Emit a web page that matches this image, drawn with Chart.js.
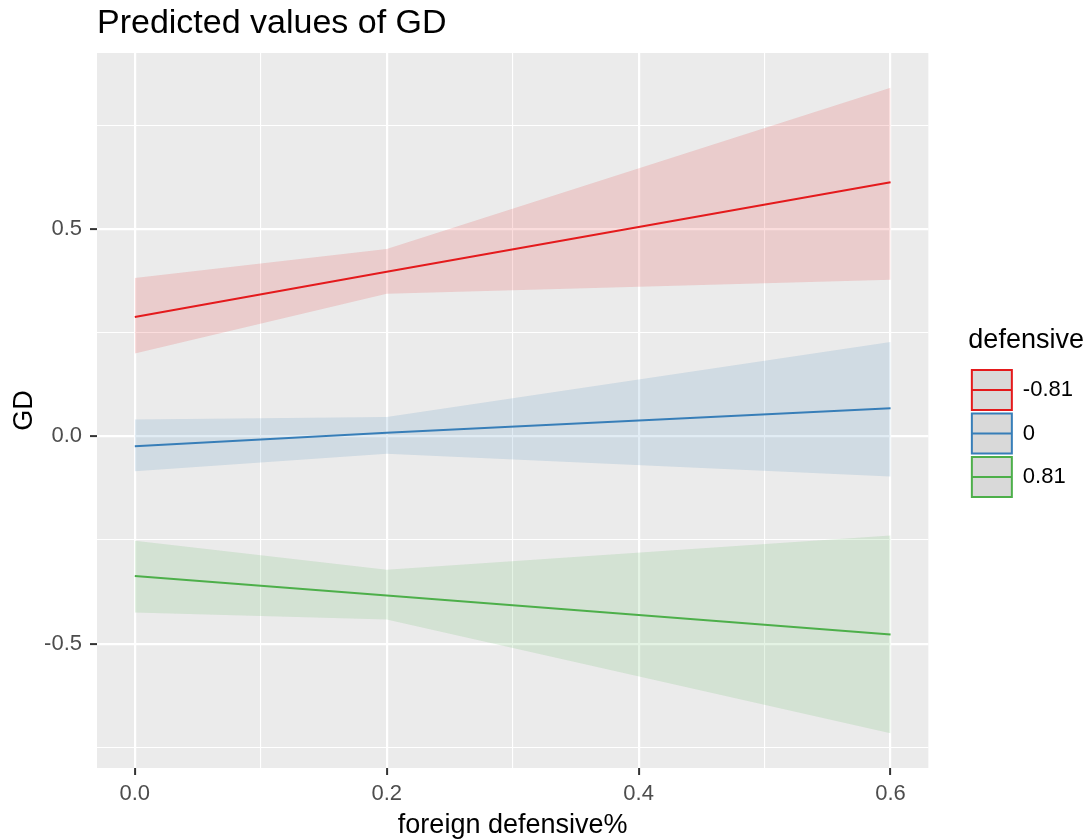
<!DOCTYPE html>
<html>
<head>
<meta charset="utf-8">
<title>Predicted values of GD</title>
<script src="https://cdn.jsdelivr.net/npm/chart.js@4.4.1/dist/chart.umd.min.js"></script>
<style>
  html, body { margin: 0; padding: 0; background: #ffffff; }
</style>
</head>
<body>
<canvas id="gdChart" width="1089" height="840"></canvas>
<script>
// values
const xValues = [0, 0.2, 0.6]
const groups = ["-0.81", "0", "0.81"]

const redLine = [0.288, 0.397, 0.613]
const redUpper = [0.382, 0.452, 0.841]
const redLower = [0.200, 0.344, 0.378]

const blueLine = [-0.024, 0.009, 0.068]
const blueUpper = [0.041, 0.047, 0.228]
const blueLower = [-0.084, -0.042, -0.097]

const greenLine = [-0.337, -0.384, -0.478]
const greenUpper = [-0.252, -0.322, -0.239]
const greenLower = [-0.425, -0.442, -0.716]

const xTicks = [0, 0.2, 0.4, 0.6]
const xTickLabels = ["0.0", "0.2", "0.4", "0.6"]
const yTicks = [-0.5, 0, 0.5]
const yTickLabels = ["-0.5", "0.0", "0.5"]

const lineColors = ['#E41A1C', '#377EB8', '#4DAF4A']
const ribbonColors = ['rgba(228, 26, 28, 0.15)', 'rgba(55, 126, 184, 0.15)', 'rgba(77, 175, 74, 0.15)']

const family = "'Liberation Sans', Arial, sans-serif"
Chart.defaults.font.family = family

const toPoints = values => values.map((y, i) => ({ x: xValues[i], y }))

const findTick = (list, value) => list.findIndex(t => Math.abs(t - value) < 1e-9)

const lines = [redLine, blueLine, greenLine]
const uppers = [redUpper, blueUpper, greenUpper]
const lowers = [redLower, blueLower, greenLower]

const datasets = []

// the three prediction lines first so they sit on top of the ribbons
lines.forEach((line, i) => {
  datasets.push({
    label: groups[i],
    data: toPoints(line),
    borderColor: lineColors[i],
    backgroundColor: '#D9D9D9',
    borderWidth: 2,
    pointRadius: 0,
    tension: 0,
    fill: false
  })
})

// confidence ribbons, upper edge fills down to the lower edge
uppers.forEach((upper, i) => {
  datasets.push({
    label: groups[i] + " upper",
    data: toPoints(upper),
    borderWidth: 0,
    borderColor: 'rgba(0,0,0,0)',
    backgroundColor: ribbonColors[i],
    pointRadius: 0,
    tension: 0,
    fill: '+1'
  })
  datasets.push({
    label: groups[i] + " lower",
    data: toPoints(lowers[i]),
    borderWidth: 0,
    borderColor: 'rgba(0,0,0,0)',
    pointRadius: 0,
    tension: 0,
    fill: false
  })
})

const panelBackground = {
  id: 'panelBackground',
  beforeDraw(chart) {
    const { ctx, chartArea: { left, top, width, height } } = chart
    ctx.save()
    ctx.fillStyle = '#EBEBEB'
    ctx.fillRect(left, top, width, height)
    ctx.restore()
  }
}

// ggplot style keys: a line through the middle of each legend box
const legendKeyLines = {
  id: 'legendKeyLines',
  afterDraw(chart) {
    const legend = chart.legend
    if (!legend || !legend.legendHitBoxes) return
    const { ctx } = chart
    const size = legend.options.labels.boxWidth
    ctx.save()
    legend.legendHitBoxes.forEach((box, i) => {
      const item = legend.legendItems[i]
      ctx.strokeStyle = item.strokeStyle
      ctx.lineWidth = 2
      ctx.beginPath()
      ctx.moveTo(box.left, box.top + size / 2)
      ctx.lineTo(box.left + size, box.top + size / 2)
      ctx.stroke()
    })
    ctx.restore()
  }
}

const gridFor = list => ({
  color: '#FFFFFF',
  lineWidth: c => (c.tick && findTick(list, c.tick.value) >= 0) ? 2.2 : 1.1,
  tickColor: c => (c.tick && findTick(list, c.tick.value) >= 0) ? '#333333' : 'rgba(0,0,0,0)',
  tickWidth: 2,
  tickLength: 7,
  drawTicks: true
})

new Chart(document.getElementById("gdChart"), {
  type: 'line',
  data: { datasets },
  plugins: [panelBackground, legendKeyLines],
  options: {
    responsive: false,
    animation: false,
    layout: { padding: { left: 0, right: 6, top: 0, bottom: 0 } },
    scales: {
      x: {
        type: 'linear',
        min: -0.03,
        max: 0.63,
        border: { display: false },
        grid: gridFor(xTicks),
        ticks: {
          stepSize: 0.1,
          includeBounds: false,
          autoSkip: false,
          maxRotation: 0,
          padding: 6,
          color: '#4D4D4D',
          font: { size: 22 },
          callback: value => {
            const i = findTick(xTicks, value)
            return i >= 0 ? xTickLabels[i] : ''
          }
        },
        title: {
          display: true,
          text: 'foreign defensive%',
          color: '#000000',
          font: { size: 27 },
          padding: { top: 0, bottom: -2 }
        },
        afterFit: scale => { scale.height = 72 }
      },
      y: {
        type: 'linear',
        min: -0.80,
        max: 0.925,
        border: { display: false },
        grid: gridFor(yTicks),
        ticks: {
          stepSize: 0.25,
          includeBounds: false,
          autoSkip: false,
          padding: 8,
          color: '#4D4D4D',
          font: { size: 22 },
          callback: value => {
            const i = findTick(yTicks, value)
            return i >= 0 ? yTickLabels[i] : ''
          }
        },
        title: {
          display: true,
          text: 'GD',
          color: '#000000',
          font: { size: 27 },
          padding: { top: 8, bottom: 0 }
        },
        afterFit: scale => { scale.width = 97 }
      },
      gap: {
        type: 'linear',
        position: 'right',
        display: true,
        grid: { display: false, drawTicks: false },
        border: { display: false },
        ticks: { display: false },
        afterFit: scale => { scale.width = 40 }
      }
    },
    plugins: {
      title: {
        display: true,
        text: 'Predicted values of GD',
        align: 'start',
        fullSize: false,
        color: '#000000',
        font: { size: 34, weight: 'normal' },
        padding: { top: 3, bottom: 9.2 }
      },
      legend: {
        display: true,
        position: 'right',
        align: 'center',
        fullSize: false,
        title: {
          display: true,
          text: 'defensive',
          position: 'start',
          color: '#000000',
          font: { size: 27 },
          padding: 6.8
        },
        labels: {
          boxWidth: 40,
          boxHeight: 40,
          padding: 3.5,
          color: '#000000',
          font: { size: 22 },
          filter: item => item.datasetIndex < 3
        }
      },
      tooltip: { enabled: false }
    }
  }
})
</script>
</body>
</html>
